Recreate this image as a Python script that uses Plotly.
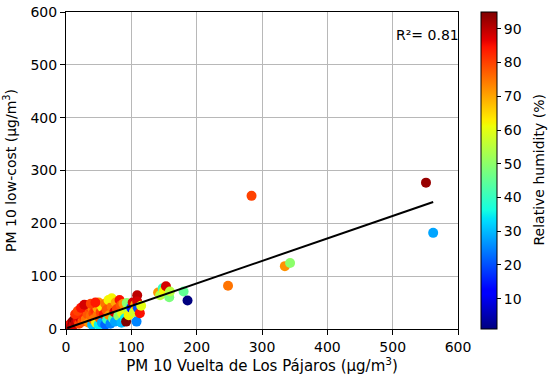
import numpy as np
import plotly.graph_objects as go

# PM10 reference station (x), low-cost sensor (y), relative humidity (%)
pm10_ref = [2, 4, 5, 7, 8, 10, 12, 13, 15, 16, 18, 20, 20, 22, 24, 25, 26, 28, 30, 30,
            32, 33, 35, 35, 36, 38, 40, 40, 42, 42, 44, 45, 46, 48, 48, 50, 50, 52, 53, 55,
            55, 58, 60, 60, 62, 63, 65, 66, 68, 70, 70, 72, 74, 75, 76, 78, 80, 82, 84, 85,
            86, 88, 90, 92, 93, 95, 96, 98, 100, 102, 104, 106, 108, 109, 109, 110, 113, 115,
            14, 18, 23, 28, 38, 45,
            141, 144, 148, 150, 153, 158, 159, 180, 186,
            248, 284, 335, 343, 551, 562]
pm10_lowcost = [3, 6, 2, 10, 5, 14, 8, 18, 12, 22, 16, 25, 10, 20, 28, 14, 32, 22, 18, 38,
                45, 28, 12, 35, 42, 25, 8, 40, 30, 18, 45, 35, 12, 26, 40, 8, 50, 20, 32, 42,
                12, 28, 8, 48, 36, 18, 55, 26, 10, 42, 58, 20, 32, 14, 50, 38, 25, 55, 45, 12,
                30, 48, 20, 14, 49, 38, 26, 42, 40, 50, 32, 46, 14, 64, 52, 40, 30, 44,
                28, 34, 40, 46, 48, 50,
                69, 64, 77, 72, 81, 60, 71, 71, 54,
                82, 252, 119, 125, 277, 182]
humidity = [90, 88, 92, 85, 90, 93, 88, 95, 90, 92, 86, 90, 80, 88, 85, 78, 80, 83, 75, 82,
            85, 78, 72, 78, 80, 76, 30, 74, 80, 75, 78, 82, 62, 75, 70, 35, 72, 78, 80, 62,
            28, 85, 22, 75, 78, 40, 62, 72, 25, 75, 62, 45, 88, 28, 70, 80, 50, 85, 78, 30,
            60, 72, 35, 95, 50, 55, 62, 45, 15, 88, 58, 70, 25, 90, 88, 20, 85, 60,
            82, 80, 85, 88, 80, 84,
            72, 55, 40, 62, 88, 48, 55, 45, 1,
            75, 80, 72, 50, 93, 28]

fit_slope = 0.426
fit_intercept = 1.0
r2_text = "R²= 0.81"

x_ticks = [0, 100, 200, 300, 400, 500, 600]
y_ticks = [0, 100, 200, 300, 400, 500, 600]
cbar_ticks = [10, 20, 30, 40, 50, 60, 70, 80, 90]

# matplotlib-like jet colorscale
_r = ([0, 0.35, 0.66, 0.89, 1], [0, 0, 1, 1, 0.5])
_g = ([0, 0.125, 0.375, 0.64, 0.91, 1], [0, 0, 1, 1, 0, 0])
_b = ([0, 0.11, 0.34, 0.65, 1], [0.5, 1, 1, 0, 0])
ts = sorted(set(_r[0] + _g[0] + _b[0]))
jet = []
for t in ts:
    r = np.interp(t, *_r); g = np.interp(t, *_g); b = np.interp(t, *_b)
    jet.append([t, f"rgb({int(r*255)},{int(g*255)},{int(b*255)})"])

font = "DejaVu Sans, Arial, sans-serif"
fs = 14

# plot area at x 66-458, y 12-329 of the 550x382 page
PL, PR, PT, PB = 66, 550 - 458, 12, 382 - 329
plot_w = 550 - PL - PR

fig = go.Figure()
fig.add_trace(go.Scatter(
    x=pm10_ref, y=pm10_lowcost, mode="markers",
    marker=dict(size=10, color=humidity, colorscale=jet,
                cmin=min(humidity), cmax=max(humidity), line=dict(width=0),
                colorbar=dict(
                    x=(481 - 66) / plot_w, xanchor="left", xpad=0,
                    y=0.5, yanchor="middle", len=1, lenmode="fraction", ypad=0,
                    thickness=16, outlinewidth=1, outlinecolor="black",
                    tickvals=cbar_ticks, ticks="outside", ticklen=4, tickcolor="black",
                    tickfont=dict(size=fs, color="black", family=font))),
    showlegend=False, hoverinfo="skip"))

lx = np.array([min(pm10_ref), max(pm10_ref)], dtype=float)
fig.add_trace(go.Scatter(x=lx, y=fit_slope * lx + fit_intercept, mode="lines",
                         line=dict(color="black", width=2), showlegend=False,
                         hoverinfo="skip"))

fig.add_annotation(x=502, y=557, text=r2_text, showarrow=False, xanchor="left",
                   yanchor="middle", font=dict(size=fs, color="black", family=font))
fig.add_annotation(xref="paper", yref="paper", x=(538 - 66) / plot_w, y=0.5,
                   text="Relative humidity (%)", textangle=-90, showarrow=False,
                   xanchor="center", yanchor="middle",
                   font=dict(size=fs, color="black", family=font))

axis_common = dict(showline=True, linecolor="black", linewidth=1, mirror=True,
                   ticks="outside", ticklen=5, tickcolor="black", automargin=False,
                   ticklabeloverflow="allow",
                   showgrid=True, gridcolor="#b8b8b8", gridwidth=1, zeroline=False,
                   tickfont=dict(size=fs, color="black", family=font))

fig.update_xaxes(range=[0, 600], tickvals=x_ticks,
                 title=dict(text="PM 10 Vuelta de Los Pájaros (μg/m<sup>3</sup>)",
                            font=dict(size=15, color="black", family=font), standoff=6),
                 **axis_common)
fig.update_yaxes(range=[0, 600], tickvals=y_ticks,
                 title=dict(text="PM 10 low-cost (μg/m<sup>3</sup>)",
                            font=dict(size=fs, color="black", family=font), standoff=10),
                 **axis_common)

fig.update_layout(width=550, height=382, margin=dict(l=PL, r=PR, t=PT, b=PB),
                  plot_bgcolor="white", paper_bgcolor="white", hovermode=False,
                  font=dict(family=font, color="black"))

# remove the page's default body margin so the figure fills the window exactly
fig.write_html("out.html", config={"displayModeBar": False},
               post_script="document.body.style.margin='0';")
